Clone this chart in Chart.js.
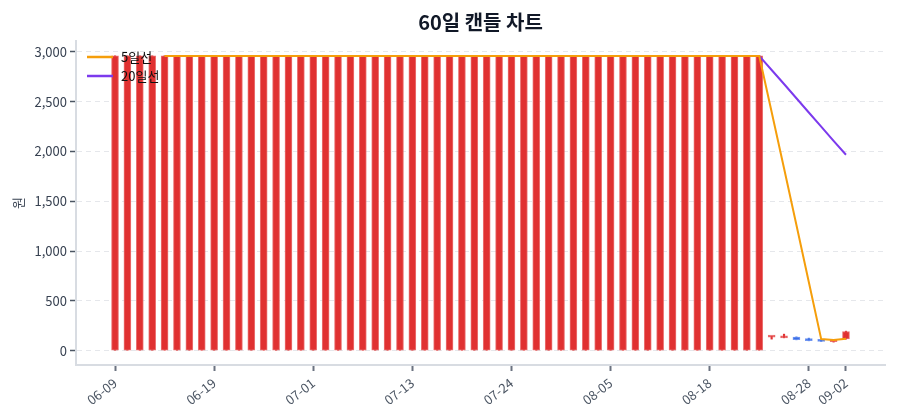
<!DOCTYPE html>
<html>
<head>
<meta charset="utf-8">
<script src="https://cdn.jsdelivr.net/npm/chart.js@4.4.1/dist/chart.umd.min.js"></script>
<style>
  html, body { margin: 0; padding: 0; background: #fff; }
  #wrap { width: 900px; height: 420px; }
</style>
</head>
<body>
<div id="wrap"><canvas id="candleChart"></canvas></div>
<script>
const dates = [
  '06-09', '06-10', '06-11', '06-12', '06-13', '06-16', '06-17', '06-18', '06-19', '06-20',
  '06-23', '06-24', '06-25', '06-26', '06-27', '06-30', '07-01', '07-02', '07-03', '07-04',
  '07-07', '07-08', '07-09', '07-10', '07-13', '07-14', '07-15', '07-16', '07-17', '07-18',
  '07-21', '07-22', '07-24', '07-25', '07-28', '07-29', '07-30', '07-31', '08-01', '08-04',
  '08-05', '08-06', '08-07', '08-08', '08-11', '08-12', '08-13', '08-14', '08-18', '08-19',
  '08-20', '08-21', '08-22', '08-25', '08-26', '08-27', '08-28', '08-29', '09-01', '09-02'
];

const opens = [
  0, 0, 0, 0, 0, 0, 0, 0, 0, 0,
  0, 0, 0, 0, 0, 0, 0, 0, 0, 0,
  0, 0, 0, 0, 0, 0, 0, 0, 0, 0,
  0, 0, 0, 0, 0, 0, 0, 0, 0, 0,
  0, 0, 0, 0, 0, 0, 0, 0, 0, 0,
  0, 0, 0, 135, 128, 135, 108, 100, 90, 118
];
const closes = [
  2960, 2960, 2960, 2960, 2960, 2960, 2960, 2960, 2960, 2960,
  2960, 2960, 2960, 2960, 2960, 2960, 2960, 2960, 2960, 2960,
  2960, 2960, 2960, 2960, 2960, 2960, 2960, 2960, 2960, 2960,
  2960, 2960, 2960, 2960, 2960, 2960, 2960, 2960, 2960, 2960,
  2960, 2960, 2960, 2960, 2960, 2960, 2960, 2960, 2960, 2960,
  2960, 2960, 2960, 140, 133, 110, 100, 93, 96, 192
];
const highs = [
  2960, 2960, 2960, 2960, 2960, 2960, 2960, 2960, 2960, 2960,
  2960, 2960, 2960, 2960, 2960, 2960, 2960, 2960, 2960, 2960,
  2960, 2960, 2960, 2960, 2960, 2960, 2960, 2960, 2960, 2960,
  2960, 2960, 2960, 2960, 2960, 2960, 2960, 2960, 2960, 2960,
  2960, 2960, 2960, 2960, 2960, 2960, 2960, 2960, 2960, 2960,
  2960, 2960, 2960, 142, 165, 137, 125, 102, 98, 195
];
const lows = [
  0, 0, 0, 0, 0, 0, 0, 0, 0, 0,
  0, 0, 0, 0, 0, 0, 0, 0, 0, 0,
  0, 0, 0, 0, 0, 0, 0, 0, 0, 0,
  0, 0, 0, 0, 0, 0, 0, 0, 0, 0,
  0, 0, 0, 0, 0, 0, 0, 0, 0, 0,
  0, 0, 0, 115, 128, 108, 98, 92, 85, 115
];

const ma5 = [
  null, null, null, null, 2960, 2960, 2960, 2960, 2960, 2960,
  2960, 2960, 2960, 2960, 2960, 2960, 2960, 2960, 2960, 2960,
  2960, 2960, 2960, 2960, 2960, 2960, 2960, 2960, 2960, 2960,
  2960, 2960, 2960, 2960, 2960, 2960, 2960, 2960, 2960, 2960,
  2960, 2960, 2960, 2960, 2960, 2960, 2960, 2960, 2960, 2960,
  2960, 2960, 2960, 2396, 1831, 1261, 689, 115, 106, 118
];
const ma20 = [
  null, null, null, null, null, null, null, null, null, null,
  null, null, null, null, null, null, null, null, null, 2960,
  2960, 2960, 2960, 2960, 2960, 2960, 2960, 2960, 2960, 2960,
  2960, 2960, 2960, 2960, 2960, 2960, 2960, 2960, 2960, 2960,
  2960, 2960, 2960, 2960, 2960, 2960, 2960, 2960, 2960, 2960,
  2960, 2960, 2960, 2819, 2678, 2535, 2392, 2249, 2106, 1967
];

const xTickIdx = [0, 8, 16, 24, 32, 40, 48, 56, 59];
const yTicks = [0, 500, 1000, 1500, 2000, 2500, 3000];

const UP = '#e03131';
const UP_EDGE = 'rgba(232,90,90,0.85)';
const DOWN = '#3b6fe6';
const DOWN_EDGE = 'rgba(100,140,240,0.9)';
const FONT = "'Noto Sans CJK KR', 'Noto Sans', sans-serif";

const isUp = dates.map((_, i) => closes[i] >= opens[i]);

// legend drawn inside the plot, top-left
const innerLegend = {
  id: 'innerLegend',
  afterDatasetsDraw(chart) {
    const ctx = chart.ctx;
    const area = chart.chartArea;
    const items = chart.data.datasets.filter(d => d.type === 'line');
    ctx.save();
    ctx.font = '13px ' + FONT;
    ctx.textBaseline = 'middle';
    items.forEach((d, i) => {
      const y = area.top + 16 + i * 19;
      ctx.strokeStyle = d.borderColor;
      ctx.lineWidth = 2.5;
      ctx.beginPath();
      ctx.moveTo(area.left + 11, y);
      ctx.lineTo(area.left + 37, y);
      ctx.stroke();
      ctx.fillStyle = '#111';
      ctx.fillText(d.label, area.left + 45, y);
    });
    ctx.restore();
  }
};

const ctx = document.getElementById('candleChart').getContext('2d');

new Chart(ctx, {
  data: {
    datasets: [
      {
        type: 'line',
        label: '5일선',
        data: ma5.map((v, i) => ({ x: i, y: v })),
        borderColor: '#f59e0b',
        borderWidth: 2,
        pointRadius: 0,
        spanGaps: false,
        order: 1,
      },
      {
        type: 'line',
        label: '20일선',
        data: ma20.map((v, i) => ({ x: i, y: v })),
        borderColor: '#7c3aed',
        borderWidth: 2,
        pointRadius: 0,
        spanGaps: false,
        order: 1,
      },
      {
        type: 'bar',
        label: 'body',
        data: opens.map((o, i) => ({ x: i, y: [o, closes[i]] })),
        backgroundColor: isUp.map(u => (u ? UP : DOWN)),
        borderColor: isUp.map(u => (u ? UP_EDGE : DOWN_EDGE)),
        borderWidth: 1,
        borderSkipped: false,
        barThickness: 7,
        minBarLength: 2,
        grouped: false,
        order: 2,
      },
      {
        type: 'bar',
        label: 'wick',
        data: lows.map((l, i) => ({ x: i, y: [l, highs[i]] })),
        backgroundColor: isUp.map(u => (u ? UP : DOWN)),
        borderWidth: 0,
        barThickness: 1.5,
        grouped: false,
        order: 3,
      },
    ],
  },
  options: {
    responsive: true,
    maintainAspectRatio: false,
    animation: false,
    layout: { padding: { left: 0, right: 15, top: 0, bottom: 0 } },
    plugins: {
      legend: { display: false },
      tooltip: { enabled: false },
      title: {
        display: true,
        text: '60일 캔들 차트',
        fullSize: false,
        color: '#111827',
        font: { family: FONT, size: 20, weight: 'bold' },
        padding: { top: 10, bottom: 7 },
      },
    },
    scales: {
      x: {
        type: 'linear',
        offset: false,
        min: -3.15,
        max: 62.15,
        afterBuildTicks: (scale) => {
          scale.ticks = xTickIdx.map(v => ({ value: v }));
        },
        afterFit: (scale) => { scale.height = 55; },
        ticks: {
          autoSkip: false,
          minRotation: 38,
          maxRotation: 38,
          color: '#4b5563',
          font: { family: FONT, size: 13 },
          padding: 4,
          callback: (v) => dates[v],
        },
        grid: {
          offset: false,
          drawOnChartArea: false,
          drawTicks: true,
          tickLength: 6,
          tickColor: '#6b7280',
          tickWidth: 2,
        },
        border: { color: '#d8dce2', width: 2 },
      },
      y: {
        min: -145,
        max: 3110,
        afterBuildTicks: (scale) => {
          scale.ticks = yTicks.map(v => ({ value: v }));
        },
        afterFit: (scale) => { scale.width = 76; },
        title: {
          display: true,
          text: '원',
          color: '#374151',
          font: { family: FONT, size: 13 },
          padding: { top: 10, bottom: 0 },
        },
        ticks: {
          color: '#374151',
          font: { family: FONT, size: 13 },
          padding: 3,
          callback: (v) => v.toLocaleString('en-US'),
        },
        grid: {
          color: '#e5e7eb',
          lineWidth: 1,
          tickColor: '#4b5563',
          tickLength: 6,
          tickWidth: 1.5,
        },
        border: { color: '#d8dce2', width: 2, dash: [5, 4] },
      },
    },
  },
  plugins: [innerLegend],
});
</script>
</body>
</html>
